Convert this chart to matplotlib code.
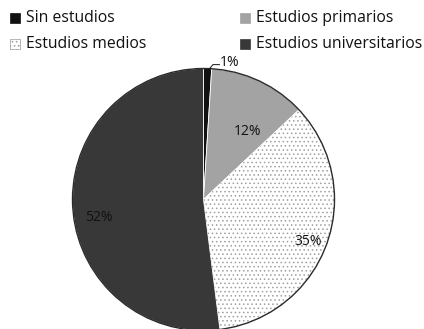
import numpy as np
import matplotlib.pyplot as plt
from matplotlib.patches import Rectangle, Wedge

categories = ["Sin estudios", "Estudios primarios", "Estudios medios", "Estudios universitarios"]
shares = [1, 12, 35, 52]
colors = ["#111111", "#a3a3a3", "#ffffff", "#383838"]
hatches = [None, None, "....", None]

plt.rcParams["font.family"] = ["Open Sans", "DejaVu Sans"]
plt.rcParams["hatch.linewidth"] = 0.6

fig = plt.figure(figsize=(4.24, 3.29), dpi=100)
W, H = 424, 329
# pie area in pixels: left, bottom, size
ax = fig.add_axes([72.5 / W, -1.5 / H, 262 / W, 262 / H])

wedges, _ = ax.pie(shares, colors=colors, startangle=90, counterclock=False,
                   wedgeprops=dict(edgecolor="white", linewidth=0.6))
for w, h in zip(wedges, hatches):
    w.set_clip_on(False)
    if h:
        # dotted fill drawn as a separate layer so the hatch stays grey
        ax.add_patch(Wedge(w.center, w.r, w.theta1, w.theta2, facecolor="none",
                           edgecolor="#a0a0a0", lw=0, hatch=h, clip_on=False))
# dark rim on the outside
ax.add_patch(plt.Circle((0, 0), 1.0, fill=False, edgecolor="#2a2a2a", lw=1.0, clip_on=False))
ax.set_xlim(-1, 1)
ax.set_ylim(-1, 1)
ax.axis("off")

# percentage labels, placed along each wedge's bisector
label_r = [None, 0.62, 0.86, 0.81]
label_shift = [0, -8, -2, 6]
for w, v, r, s in zip(wedges, shares, label_r, label_shift):
    if r is None:
        continue
    ang = np.deg2rad((w.theta1 + w.theta2) / 2 + s)
    ax.text(r * np.cos(ang), r * np.sin(ang), f"{v}%", ha="center", va="center",
            fontsize=10, color="#111111")

# small slice gets a leader line
w0 = wedges[0]
ang = np.deg2rad((w0.theta1 + w0.theta2) / 2)
x0, y0 = np.cos(ang), np.sin(ang)
ax.plot([x0, x0 + 0.04, x0 + 0.09], [y0 - 0.02, y0 + 0.03, y0 + 0.03],
        color="#111111", lw=0.7, clip_on=False)
ax.text(x0 + 0.09, y0 + 0.05, f"{shares[0]}%", ha="left", va="center", fontsize=10, color="#111111")

# legend: two columns, entries laid out in pixels from the top-left
col_x = [10, 240]
row_y = [18, 44]
slots = [(0, 0), (1, 0), (0, 1), (1, 1)]
for (c, r), name, col, h in zip(slots, categories, colors, hatches):
    x, y = col_x[c], H - row_y[r]
    fig.patches.append(Rectangle((x / W, (y - 5) / H), 10 / W, 10 / H, transform=fig.transFigure,
                                 facecolor=col, edgecolor="#999999" if h else col,
                                 hatch=h, lw=0.5))
    fig.text((x + 16) / W, y / H, name, ha="left", va="center", fontsize=11.3, color="#111111")

fig.savefig("out.png", dpi=100, facecolor="white")
